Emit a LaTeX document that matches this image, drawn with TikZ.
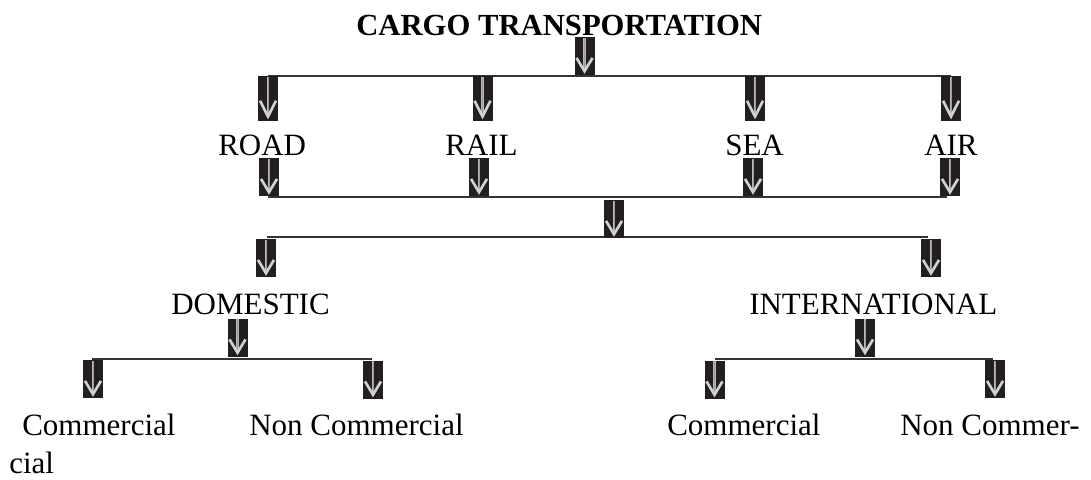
\documentclass[tikz,border=0pt]{standalone}
\usepackage{fontspec}
\setmainfont{Liberation Serif}
\usetikzlibrary{calc}

\tikzset{
  arrowbox/.style={fill={rgb,255:red,35;green,31;blue,32}, draw=none, inner sep=0pt,
    minimum width=15pt, minimum height=28.5pt,
    path picture={
      \coordinate (pn) at (path picture bounding box.north);
      \coordinate (ps) at (path picture bounding box.south);
      \coordinate (pw) at (path picture bounding box.south west);
      \coordinate (pe) at (path picture bounding box.south east);
      \coordinate (cl) at ($(pw)!0.1!(pe)$);
      \coordinate (cr) at ($(pw)!0.9!(pe)$);
      \coordinate (cy) at ($(pn)!0.55!(ps)$);
      \coordinate (ct) at ($(pn)!0.9!(ps)$);
      \draw[gray!55, line width=1.6pt] ($(pn)!0.02!(ps)$) -- ($(pn)!0.86!(ps)$);
      \draw[gray!80, line width=0.5pt] ($(pn)!0.02!(ps)$) -- ($(pn)!0.86!(ps)$);
      \draw[white!82!black, line width=2pt] (cl |- cy) -- (ct) -- (cr |- cy);
    }},
  tallbox/.style={arrowbox, minimum height=33.75pt},
  branch/.style={line width=1.1pt, black!80},
  label/.style={anchor=base west, inner sep=0pt, font=\fontsize{23.25pt}{28pt}\selectfont},
}

\begin{document}
\begin{tikzpicture}[x=0.75pt,y=0.75pt,yscale=-1,xscale=1]
\path[use as bounding box] (0,0) rectangle (1091,479);

% Text Node
\node[label, font=\fontsize{23pt}{28pt}\selectfont\bfseries] (title) at (356,35) {CARGO TRANSPORTATION};

%Straight Lines
\coordinate (top1) at (268,76);
\coordinate (top4) at (951,76);
\draw[branch] (top1) -- (top4);
\coordinate (mid1) at (268,197);
\coordinate (mid4) at (947,197);
\draw[branch] (mid1) -- (mid4);
\coordinate (low1) at (267,237);
\coordinate (low2) at (928,237);
\draw[branch] (low1) -- (low2);
\coordinate (dl) at (92,359);
\coordinate (dr) at (372,359);
\draw[branch] (dl) -- (dr);
\coordinate (il) at (715,359);
\coordinate (ir) at (993,359);
\draw[branch] (il) -- (ir);

% Arrows
\node[arrowbox] (a0) at (584.5,56) {};
\node[tallbox] (r1) at (268,98.5) {};
\node[tallbox] (r2) at (482.5,98.5) {};
\node[tallbox] (r3) at (755,98.5) {};
\node[tallbox] (r4) at (951,98.5) {};
\node[arrowbox] (s1) at (269,177) {};
\node[arrowbox] (s2) at (479,177) {};
\node[arrowbox] (s3) at (753,177) {};
\node[arrowbox] (s4) at (950,177) {};
\node[arrowbox] (m0) at (614,219) {};
\node[arrowbox] (d0) at (266,258) {};
\node[arrowbox] (i0) at (931,258) {};
\node[arrowbox] (d1) at (237.5,337.5) {};
\node[arrowbox] (i1) at (865,337.5) {};
\node[arrowbox] (c1) at (93,379) {};
\node[arrowbox] (c2) at (373,379.5) {};
\node[arrowbox] (c3) at (714.5,379.5) {};
\node[arrowbox] (c4) at (995,379) {};

% Text Node
\node[label] (road) at (218,155) {ROAD};
\node[label] (rail) at (445,155) {RAIL};
\node[label] (sea) at (725,155) {SEA};
\node[label] (air) at (924,155) {AIR};
\node[label] (dom) at (171,314) {DOMESTIC};
\node[label] (intl) at (749,314) {INTERNATIONAL};
\node[label] (dcom) at (22,435) {Commercial};
\node[label] (dnon) at (249,435) {Non Commercial};
\node[label] (icom) at (667,435) {Commercial};
\node[label] (inon) at (900,435) {Non Commer-};
\node[label] (cial) at (9,473) {cial};

\end{tikzpicture}
\end{document}
